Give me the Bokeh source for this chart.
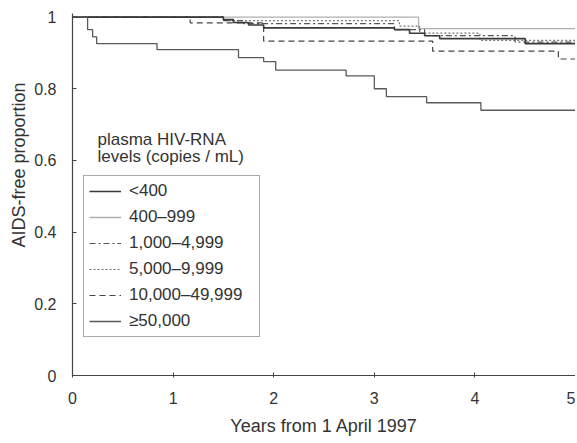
from bokeh.plotting import figure
from bokeh.models import Legend, LegendItem, FixedTicker, Label, Title
from bokeh.embed import file_html
from bokeh.resources import INLINE

# Kaplan-Meier step data (years, AIDS-free proportion)
t_lt400 = [0, 1.5, 1.6, 1.75, 1.9, 3.2, 3.35, 3.5, 3.65, 4.5, 5.0]
s_lt400 = [1.0, 0.993, 0.985, 0.978, 0.970, 0.965, 0.955, 0.948, 0.940, 0.926, 0.926]

t_400 = [0, 3.44, 5.0]
s_400 = [1.0, 0.968, 0.968]

t_1000 = [0, 1.5, 1.7, 3.2, 3.5, 4.4, 5.0]
s_1000 = [1.0, 0.99, 0.982, 0.965, 0.948, 0.93, 0.93]

t_5000 = [0, 1.5, 3.25, 3.45, 4.05, 5.0]
s_5000 = [1.0, 0.99, 0.975, 0.955, 0.935, 0.935]

t_10000 = [0, 1.17, 1.9, 3.58, 4.83, 5.0]
s_10000 = [1.0, 0.984, 0.933, 0.905, 0.883, 0.883]

t_50000 = [0, 0.15, 0.2, 0.24, 0.84, 1.65, 1.9, 2.02, 2.72, 3.0, 3.12, 3.52, 4.06, 5.0]
s_50000 = [1.0, 0.965, 0.945, 0.926, 0.909, 0.887, 0.876, 0.852, 0.836, 0.80, 0.778, 0.761, 0.740, 0.740]

x_ticks = [0, 1, 2, 3, 4, 5]
y_ticks = [0, 0.2, 0.4, 0.6, 0.8, 1.0]
y_tick_labels = ["0", "0.2", "0.4", "0.6", "0.8", "1"]

series_labels = ["<400", "400–999", "1,000–4,999", "5,000–9,999", "10,000–49,999", "≥50,000"]
legend_title = ["plasma HIV-RNA", "levels (copies / mL)"]
x_title = "Years from 1 April 1997"
y_title = "AIDS-free proportion"

FONT = "Liberation Sans"
TXT = "#333333"

p = figure(width=575, height=440, output_backend="svg", toolbar_location=None,
           x_range=(0, 5), y_range=(0, 1.01),
           min_border_left=72, min_border_right=0, min_border_top=13, min_border_bottom=65)
p.outline_line_color = None
p.xgrid.visible = False
p.ygrid.visible = False
p.background_fill_color = "white"
p.border_fill_color = "white"

styles = [
    (t_lt400, s_lt400, "#3a3a3a", 1.6, "solid"),
    (t_400, s_400, "#b0b0b0", 1.3, "solid"),
    (t_1000, s_1000, "#555555", 1.2, "6 3 2 3"),
    (t_5000, s_5000, "#777777", 1.2, "2 2"),
    (t_10000, s_10000, "#444444", 1.2, "6 4"),
    (t_50000, s_50000, "#5a5a5a", 1.3, "solid"),
]
draw_order = [1, 3, 2, 4, 0, 5]
renderers = [None] * 6
for i in draw_order:
    t, s, c, w, d = styles[i]
    renderers[i] = p.step(t, s, mode="after", line_color=c, line_width=w, line_dash=d)

items = [LegendItem(label=series_labels[i], renderers=[renderers[i]]) for i in range(6)]
legend = Legend(items=items, location=(11, 38), padding=5, spacing=6,
                label_height=20, glyph_height=20, glyph_width=32, label_standoff=8,
                label_width=125, border_line_color="#555555", border_line_width=1,
                background_fill_color="white", background_fill_alpha=1.0,
                label_text_font=FONT, label_text_font_size="17px", label_text_color=TXT,
                margin=0)
p.add_layout(legend, "center")

for k, txt in enumerate(legend_title):
    p.add_layout(Label(x=25, y=236 - 17 * k, x_units="screen", y_units="screen", text=txt,
                       text_font=FONT, text_font_size="17px", text_color=TXT,
                       text_baseline="middle", text_align="left"))

for ax in (p.xaxis[0], p.yaxis[0]):
    ax.axis_line_color = "#444444"
    ax.axis_line_width = 1.2
    ax.major_tick_line_color = "#444444"
    ax.minor_tick_line_color = None
    ax.major_label_text_font = FONT
    ax.major_label_text_font_size = "16px"
    ax.major_label_text_color = TXT
    ax.axis_label_text_font = FONT
    ax.axis_label_text_font_size = "18px"
    ax.axis_label_text_font_style = "normal"
    ax.axis_label_text_color = TXT

p.xaxis.ticker = FixedTicker(ticks=x_ticks)
p.xaxis.major_tick_in = 3
p.xaxis.major_tick_out = 2
p.xaxis.major_label_standoff = 14
p.xaxis.axis_label = x_title
p.xaxis.axis_label_standoff = 9

p.yaxis.ticker = FixedTicker(ticks=y_ticks)
p.yaxis.major_label_overrides = {v: l for v, l in zip(y_ticks, y_tick_labels)}
p.yaxis.major_tick_in = 4
p.yaxis.major_tick_out = 0
p.yaxis.major_label_standoff = 16

# y-axis title, shifted above the frame centre as in the reference
p.add_layout(Title(text=y_title, align="left", offset=128, standoff=5,
                   text_font=FONT, text_font_size="18px", text_font_style="normal",
                   text_color=TXT), "left")

open("out.html", "w").write(file_html(p, INLINE))
